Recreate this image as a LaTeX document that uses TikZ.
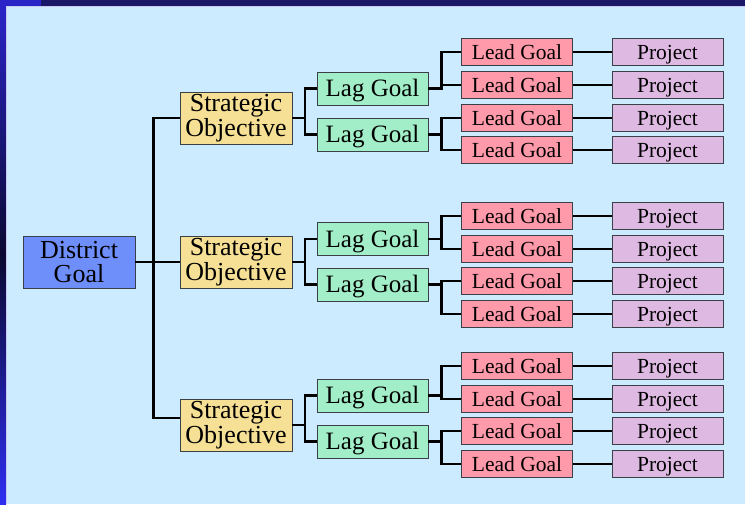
\documentclass[tikz,border=0pt]{standalone}
\usepackage{fontspec}
\setmainfont{Liberation Serif}
\usepackage{tikz}
\definecolor{slidenavy}{HTML}{1A1668}
\definecolor{slideblue}{HTML}{2A24C8}
\definecolor{slidedark}{HTML}{0A0830}
\definecolor{slidebright}{HTML}{2E2EF2}
\definecolor{panelblue}{HTML}{CCEBFF}
\definecolor{districtblue}{HTML}{6E8EFA}
\definecolor{objgold}{HTML}{F6E095}
\definecolor{laggreen}{HTML}{A2EEC8}
\definecolor{leadpink}{HTML}{FF9AAA}
\definecolor{projlilac}{HTML}{DEB9E2}
\definecolor{boxedge}{HTML}{3A4048}
\tikzset{
		elbow/.style={
		to path={(\tikztostart) -- ++(#1,0) |- (\tikztotarget)}
		},
		elbow/.default=13,
		}

\begin{document}
\begin{tikzpicture}[x=1pt,y=-1pt,node distance=150.5pt]
					\tikzstyle{goal}=[draw=boxedge,line width=0.9pt,inner sep=0pt,align=center]
					\tikzstyle{bigbox}=[goal,minimum width=112pt,minimum height=52pt,font=\fontsize{26}{24.5}\selectfont]
					\tikzstyle{lagbox}=[goal,fill=laggreen,minimum width=111pt,minimum height=33pt,text height=16.5pt,text depth=0pt,font=\fontsize{25}{25}\selectfont]
					\tikzstyle{leadbox}=[goal,fill=leadpink,minimum width=111.5pt,minimum height=26.5pt,text height=14.2pt,text depth=0pt,font=\fontsize{21.5}{22}\selectfont]
					\tikzstyle{projbox}=[leadbox,fill=projlilac,minimum width=111pt]
					\tikzstyle{link}=[line width=2.8pt]
					%BACKGROUND
					\useasboundingbox (0,0) rectangle (745,504);
					\fill[slidenavy] (0,0) rectangle (745,6);
					\fill[slideblue] (0,0) rectangle (41,6);
					\shade[top color=slideblue,bottom color=slidebright,middle color=slidedark] (0,6) rectangle (6,504);
					\fill[panelblue] (6,6) rectangle (745,504);
					\draw[white!75!slideblue,line width=1pt] (6.5,504) -- (6.5,6.5) -- (745,6.5);
					%NODES for District Goal and Objectives
					\node[bigbox,fill=districtblue](d) at (79,262){District\\Goal};
					\node[bigbox,fill=objgold](s1) at (236,118){Strategic\\Objective};
					\node[bigbox,fill=objgold](s2) at (236,262){Strategic\\Objective};
					\node[bigbox,fill=objgold](s3) at (236,425){Strategic\\Objective};
					%NODES for Lag Goals
					\node[lagbox](g11) at (372.5,88.5){Lag Goal};
					\node[lagbox](g12) at (372.5,134.5){Lag Goal};
					\node[lagbox](g21) at (372.5,239){Lag Goal};
					\node[lagbox](g22) at (372.5,284.5){Lag Goal};
					\node[lagbox](g31) at (372.5,395.5){Lag Goal};
					\node[lagbox](g32) at (372.5,441.5){Lag Goal};
					%NODES for Lead Goals
					\node[leadbox](l111) at (517,52){Lead Goal};
					\node[leadbox](l112) at (517,85){Lead Goal};
					\node[leadbox](l121) at (517,118){Lead Goal};
					\node[leadbox](l122) at (517,150){Lead Goal};
					\node[leadbox](l211) at (517,216){Lead Goal};
					\node[leadbox](l212) at (517,249){Lead Goal};
					\node[leadbox](l221) at (517,281){Lead Goal};
					\node[leadbox](l222) at (517,314){Lead Goal};
					\node[leadbox](l311) at (517,366){Lead Goal};
					\node[leadbox](l312) at (517,399){Lead Goal};
					\node[leadbox](l321) at (517,431){Lead Goal};
					\node[leadbox](l322) at (517,464){Lead Goal};
					%NODES for Projects
					\node[projbox](p111)[right of = l111]{Project};
					\node[projbox](p112)[right of = l112]{Project};
					\node[projbox](p121)[right of = l121]{Project};
					\node[projbox](p122)[right of = l122]{Project};
					\node[projbox](p211)[right of = l211]{Project};
					\node[projbox](p212)[right of = l212]{Project};
					\node[projbox](p221)[right of = l221]{Project};
					\node[projbox](p222)[right of = l222]{Project};
					\node[projbox](p311)[right of = l311]{Project};
					\node[projbox](p312)[right of = l312]{Project};
					\node[projbox](p321)[right of = l321]{Project};
					\node[projbox](p322)[right of = l322]{Project};
					%PATHS
					\draw[link] (d.east) -- (s2.west);
					\draw[link] (s1.west) -- ++(-26,0) |- ([yshift=7pt]s3.west);
					\draw[link] (s1.east) to[elbow=12.5] (g11.west) (s1.east) to[elbow=12.5] (g12.west)
					(s2.east) to[elbow=12.5] (g21.west) (s2.east) to[elbow=12.5] (g22.west)
					(s3.east) to[elbow=12.5] (g31.west) (s3.east) to[elbow=12.5] (g32.west);
					\draw[link] (g11.east) to[elbow] (l111.west) (g11.east) to[elbow] (l112.west)
					(g12.east) to[elbow] (l121.west) (g12.east) to[elbow] (l122.west)
					(g21.east) to[elbow] (l211.west) (g21.east) to[elbow] (l212.west)
					(g22.east) to[elbow] (l221.west) (g22.east) to[elbow] (l222.west)
					(g31.east) to[elbow] (l311.west) (g31.east) to[elbow] (l312.west)
					(g32.east) to[elbow] (l321.west) (g32.east) to[elbow] (l322.west);
					\draw[link] (l111) -- (p111) (l112) -- (p112) (l121) -- (p121) (l122) -- (p122)
					(l211) -- (p211) (l212) -- (p212) (l221) -- (p221) (l222) -- (p222)
					(l311) -- (p311) (l312) -- (p312) (l321) -- (p321) (l322) -- (p322);
				\end{tikzpicture}
\end{document}
